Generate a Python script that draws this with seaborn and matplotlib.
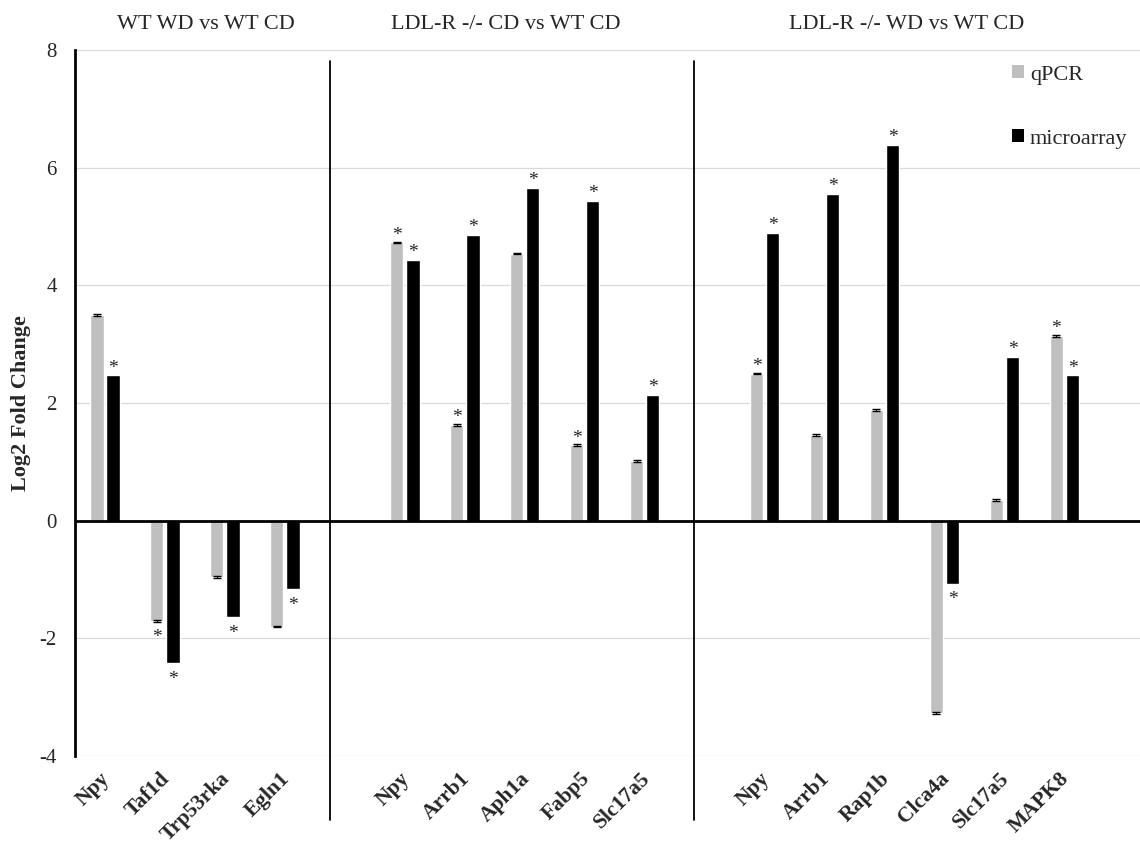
import numpy as np
import pandas as pd
import matplotlib
matplotlib.use("Agg")
import matplotlib.pyplot as plt
from matplotlib.patches import Patch
from matplotlib.transforms import ScaledTranslation
import seaborn as sns

# ---------------- data ----------------
group_titles = ["WT WD vs WT CD", "LDL-R -/- CD vs WT CD", "LDL-R -/- WD vs WT CD"]
genes_g1 = ["Npy", "Taf1d", "Trp53rka", "Egln1"]
genes_g2 = ["Npy", "Arrb1", "Aph1a", "Fabp5", "Slc17a5"]
genes_g3 = ["Npy", "Arrb1", "Rap1b", "Clca4a", "Slc17a5", "MAPK8"]

qpcr_g1 = [3.49, -1.71, -0.96, -1.80]
micro_g1 = [2.47, -2.42, -1.64, -1.16]
qpcr_g2 = [4.73, 1.63, 4.54, 1.28, 1.02]
micro_g2 = [4.43, 4.86, 5.66, 5.43, 2.14]
qpcr_g3 = [2.50, 1.46, 1.88, -3.27, 0.35, 3.14]
micro_g3 = [4.89, 5.56, 6.39, -1.07, 2.79, 2.47]

qpcr_err_g1 = [0.015, 0.015, 0.015, 0.015]
qpcr_err_g2 = [0.015, 0.015, 0.015, 0.015, 0.015]
qpcr_err_g3 = [0.015, 0.015, 0.015, 0.015, 0.015, 0.015]

# significance flags (asterisks)
qpcr_sig_g1 = [0, 1, 0, 0]
micro_sig_g1 = [1, 1, 1, 1]
qpcr_sig_g2 = [1, 1, 0, 1, 0]
micro_sig_g2 = [1, 1, 1, 1, 1]
qpcr_sig_g3 = [1, 0, 0, 0, 0, 1]
micro_sig_g3 = [1, 1, 1, 1, 1, 1]

series = ["qPCR", "microarray"]
colors = {"qPCR": "#BFBFBF", "microarray": "#000000"}

# ---------------- build table ----------------
groups = [
    (genes_g1, qpcr_g1, micro_g1, qpcr_err_g1, qpcr_sig_g1, micro_sig_g1),
    (genes_g2, qpcr_g2, micro_g2, qpcr_err_g2, qpcr_sig_g2, micro_sig_g2),
    (genes_g3, qpcr_g3, micro_g3, qpcr_err_g3, qpcr_sig_g3, micro_sig_g3),
]
rows = []
order = []
tick_keys, tick_labels = [], []
gap_keys = []
for gi, (genes, q, m, qe, qs, ms) in enumerate(groups):
    if gi > 0:
        gk = f"gap{gi}"
        order.append(gk)
        gap_keys.append(gk)
    for g, qv, mv, qerr, qsig, msig in zip(genes, q, m, qe, qs, ms):
        key = f"g{gi}_{g}"
        order.append(key)
        tick_keys.append(key)
        tick_labels.append(g)
        rows.append(dict(key=key, series="qPCR", value=qv, err=qerr, sig=qsig))
        rows.append(dict(key=key, series="microarray", value=mv, err=0.0, sig=msig))
df = pd.DataFrame(rows)

# ---------------- style ----------------
sns.set_style("white")
plt.rcParams["font.family"] = ["Liberation Serif", "DejaVu Serif"]
plt.rcParams["axes.unicode_minus"] = False

fig = plt.figure(figsize=(11.4, 8.47), dpi=100)
ax = fig.add_axes([75 / 1140, 1 - 756 / 847, 1 - 75 / 1140, (756 - 50) / 847])

sns.barplot(data=df, x="key", y="value", hue="series", order=order,
            hue_order=series, palette=colors, width=0.54, gap=0.18,
            errorbar=None, legend=False, ax=ax, saturation=1)

ax.set_xlim(-0.5, 17.26)
ax.set_ylim(-4, 8)
ax.set_yticks([-4, -2, 0, 2, 4, 6, 8])
ax.yaxis.grid(True, color="#d9d9d9", lw=0.9)
ax.set_axisbelow(True)
for s in ["top", "right", "bottom"]:
    ax.spines[s].set_visible(False)
ax.spines["left"].set_color("black")
ax.spines["left"].set_linewidth(2)
ax.axhline(0, color="black", lw=2, zorder=3)
ax.tick_params(axis="both", length=0)
ax.tick_params(axis="y", labelsize=15, pad=13)

pos = {k: i for i, k in enumerate(order)}
ax.set_xticks([pos[k] for k in tick_keys])
ax.set_xticklabels(tick_labels, rotation=45, ha="right", rotation_mode="anchor",
                   fontsize=15.5, fontweight="bold")
ax.tick_params(axis="x", pad=9)
shift = ScaledTranslation(-5 / 100, 0, fig.dpi_scale_trans)
for lab in ax.get_xticklabels():
    lab.set_transform(lab.get_transform() + shift)
ax.set_xlabel("")
ax.set_ylabel("")
fig.text(21 / 1140, 1 - 403 / 847, "Log2 Fold Change", rotation=90, ha="center",
         va="center", fontsize=16, fontweight="bold")

# error bars and asterisks from the drawn bars
for cont, ser in zip(ax.containers, series):
    sub = df[df.series == ser].set_index("key")
    for bar in cont:
        xc = bar.get_x() + bar.get_width() / 2
        key = order[int(round(xc))]
        val = sub.loc[key, "value"]
        err = sub.loc[key, "err"]
        if err > 0:
            ax.errorbar(xc, val, yerr=err, fmt="none", ecolor="black",
                        elinewidth=0.8, capsize=2.6, capthick=1, zorder=4)
        if sub.loc[key, "sig"]:
            off = 2 if val >= 0 else -15
            ax.annotate("*", (xc, val), xytext=(0, off), textcoords="offset points",
                        ha="center", va="baseline", fontsize=14, color="#222222")

# group separators
sep_offsets = [-0.24, -0.17]
for gk, off in zip(gap_keys, sep_offsets):
    x = pos[gk] + off
    ax.plot([x, x], [-5.09, 7.81], color="black", lw=1.3, clip_on=False, zorder=3)

# group titles
title_x = [1.69, 6.69, 13.37]
for t, x in zip(group_titles, title_x):
    ax.text(x, 8.43, t, ha="center", va="center", fontsize=16, clip_on=False)

handles = [Patch(facecolor=colors[s], edgecolor="none", label=s) for s in series]
fig.legend(handles=handles, loc="upper left", bbox_to_anchor=(1001 / 1140, 1 - 54 / 847),
           frameon=False, borderpad=0, handlelength=0.55, handleheight=0.55,
           handletextpad=0.25, labelspacing=2.0, fontsize=16)

fig.savefig("out.png", dpi=100)
